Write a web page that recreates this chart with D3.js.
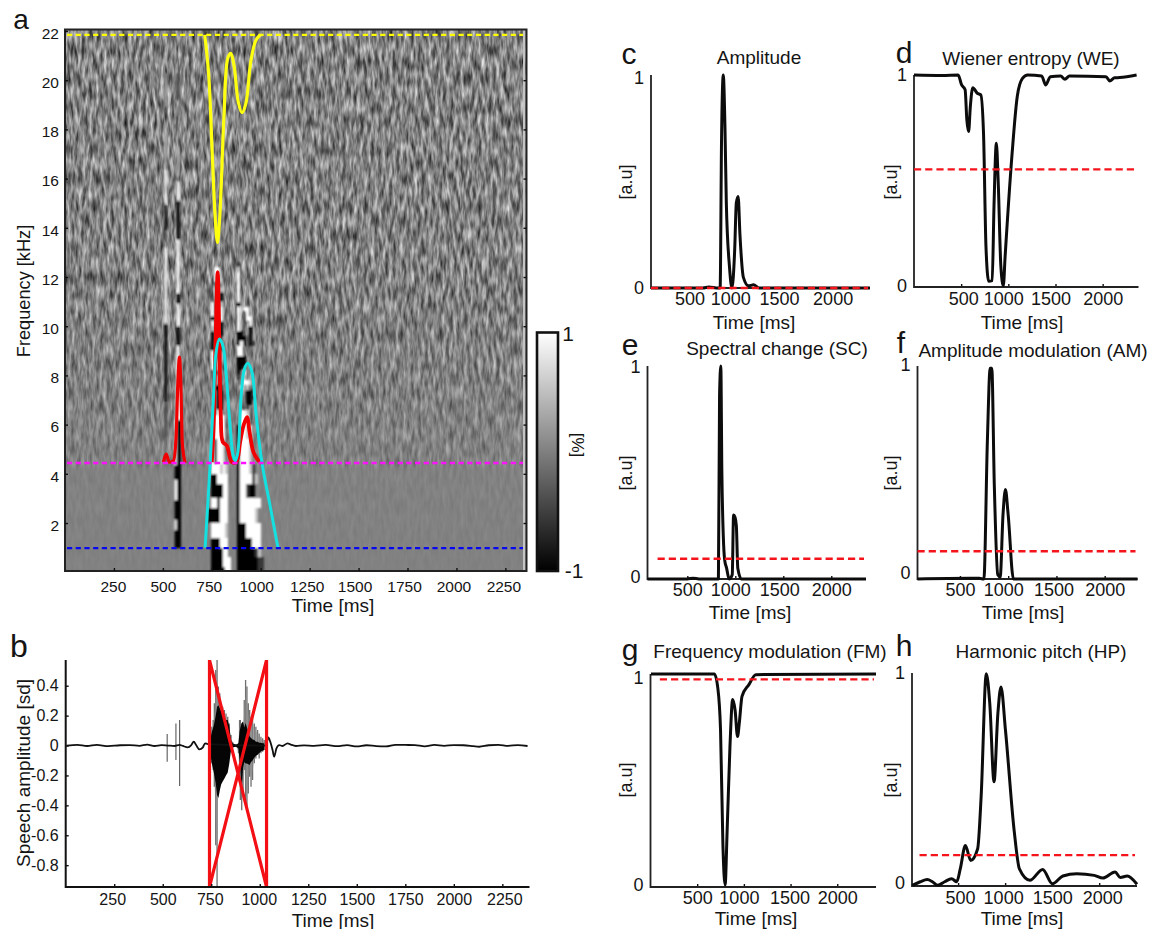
<!DOCTYPE html>
<html>
<head>
<meta charset="utf-8">
<script src="https://cdn.jsdelivr.net/npm/d3@7"></script>
<style>
html,body{margin:0;padding:0;background:#fff;overflow:hidden}
svg{display:block}
text{font-family:"Liberation Sans",Arial,sans-serif;fill:#141414}
</style>
</head>
<body>
<svg id="fig" width="1150" height="929"></svg>
<script>
// ---------- panel a: spectrogram ----------
const freqTicks = [2,4,6,8,10,12,14,16,18,20,22];
const timeTicksLong = [250,500,750,1000,1250,1500,1750,2000,2250];
const timeTicksShort = [500,1000,1500,2000];
const spectroStartMs = 715, spectroStepMs = 15, spectroTopKHz = 13, spectroStepKHz = 0.2;
const spectroLevels = {"#":-1, "-":-0.55, "+":0.55, ".":1};
const spectroRows = [
"                      ",
"                      ",
"           -          ",
"   ..      +          ",
"   ..      .          ",
"   ..      .          ",
"           .          ",
"     +     .          ",
"     #     .          ",
"     #     .          ",
"  .  +     #          ",
"  .  .     . ..       ",
"  .  .     .  .       ",
"  #  .     .  ..      ",
"  .  #     .   .      ",
"  +  #     .   #      ",
"  #  #     ##  #      ",
"  #        ### #      ",
"  #        #.# #-     ",
"  #  -     ..         ",
"  .        ..         ",
"  .        ###        ",
"  ..       ###        ",
"  ..       ##-        ",
"   -       # .        ",
"   .#      - +        ",
"   .#        ..+      ",
"   ##-      . +       ",
"    ##        ##      ",
"    ##        ##-     ",
"    ##        ##      ",
"    ##        -       ",
"    .       ..+       ",
"   ....     ...       ",
"   ....     ...       ",
"   ....    #..+.      ",
"   ....    #..+.      ",
"   ....    #..+.      ",
"  .#..+    #...+      ",
"  .#..+    #...+      ",
"  .#..+    #...+      ",
"  .#..+    #...+      ",
"  .#..+    #...+      ",
"  ...+.+   #...+-     ",
"  ...+.+   #...+-     ",
"  ##....   #....-+    ",
"  ##....   #....-+    ",
"  ####..   #..-##     ",
"  ####..   #..-##     ",
"  ####..   #..-##     ",
"  ..#...   #.......   ",
"  ..#...   #.......   ",
" ####...   #.....+    ",
" ####...   #.....+    ",
" ####...   #.....+    ",
"  .....+   ###.....   ",
"  .....+   ###.....   ",
"  .....+   ###.....   ",
"  ###...   #####...   ",
"  ###...   #####...   ",
"  ####..   ######-+   ",
"  ####..   ######-+   ",
"  ####...  #######--  ",
"  ####...  #######--  ",
"  #####..  #######--  "
];
// [start ms, end ms, high kHz, low kHz, value]
const clickStreaks = [
[511,519,20.3,18.9,0.25],[511,519,18,16.5,0.35],[511,519,16.35,15,0.9],[511,519,14.93,13.9,-0.9],
[511,519,13.2,10.1,1],[511,519,10.1,6.9,-1],[511,519,6.9,5.5,-0.4],
[573,583,20.3,19.2,-0.4],[573,583,17.3,16.1,0.3],[573,583,15.9,15.1,0.9],[573,583,15.1,13.5,-1],
[573,583,13.5,11.35,1],[573,583,11.35,10.9,-1],[573,583,10.9,10,1],[573,583,10,9.2,-1],[573,583,9.2,8.4,1],
[570,590,8.4,6.19,1],[563,573,6.19,4.36,1],[573,590,6.19,4.36,-1],[563,590,4.36,3.75,-1],
[563,575,3.75,2.93,1],[575,590,3.75,2.93,-1],[563,590,2.93,2.12,-1],[563,573,2.12,1.72,1],[573,590,2.12,1.72,-1],[563,590,1.72,0.98,-1]
];
const bandHighKHz = 21.84, bandMidKHz = 4.44, bandLowKHz = 0.98;
const yellowT = [714,734,753,767,779,791,812,832,847,864,885,904,924,949,974,997];
const yellowF = [21.84,20.25,16.88,14.48,13.4,14.48,18.48,20.9,21.09,20.58,19.13,18.68,19.05,20.74,21.6,21.84];
const redOneT = [503,517,533,554,568,576,585,592,599,614];
const redOneF = [4.47,4.8,4.47,4.53,5.55,7.58,8.74,7.58,5.29,4.44];
const redTwoT = [750,759,769,780,789,796,806,827,852,875,895,912,930,943,963,989,1006];
const redTwoF = [4.48,5.82,9.2,12.2,9.2,6.36,5.3,5.14,4.48,4.48,5.3,5.96,6.3,5.7,4.88,4.53,4.44];
const cyanT = [716,742,759,772,789,807,824,841,858,870,883,900,917,934,955,977,1006,1048,1088];
const cyanF = [1,4.47,7.17,8.95,9.48,9.2,8,6.2,4.8,4.53,4.87,7.17,8.26,8.49,8.14,6.36,4.47,2.7,1];

// ---------- panel b: waveform ----------
const ampTicks = [0.4,0.2,0,-0.2,-0.4,-0.6,-0.8];
const ampTickLabels = ["0.4","0.2","0","-0.2","-0.4","-0.6","-0.8"];
const baseT = [5,60,110,160,220,280,330,380,420,458,493,527,561,587,604,629,647,660,672,689,707,718,732,1032,1044,1054,1066,1074,1086,1100,1117,1143,1160,1186,1228,1280,1340,1400,1450,1500,1550,1600,1650,1700,1750,1800,1850,1900,1950,2000,2050,2100,2130,2180,2230,2280,2330,2380];
const baseV = [0,0.005,-0.003,0.004,-0.004,0.002,0.003,-0.002,0.006,-0.003,0.003,0,-0.003,0.004,-0.003,-0.012,0.003,0.026,0.003,-0.026,-0.012,0.015,0.01,0,0.055,0.026,-0.03,-0.075,-0.019,0.003,-0.003,0.015,0.006,-0.003,0.001,-0.002,0.004,-0.004,0.003,-0.006,0.002,-0.004,-0.006,0.005,0.004,0.003,-0.005,0.004,-0.002,0.003,0.002,-0.004,-0.008,0.002,0.005,-0.002,0.003,-0.003];
const burstT = [741,753,760,766,773,780,787,794,801,809,818,826,835,843,852,860,878,890,896,900,907,914,920,927,934,941,948,955,963,972,980,989,997,1006,1015,1023];
const burstPeakHi = [.015,.126,.171,.282,.505,.6,.394,.349,.282,.26,.237,.215,.193,.148,.07,.026,.003,.015,.171,.171,.148,.148,.304,.438,.394,.282,.237,.193,.215,.148,.126,.104,.081,.059,.048,.037];
const burstPeakLo = [-.019,-.119,-.164,-.275,-.666,-.96,-.32,-.231,-.209,-.197,-.186,-.142,-.097,-.075,-.041,-.019,-.008,-.052,-.253,-.365,-.432,-.32,-.164,-.365,-.409,-.32,-.209,-.275,-.231,-.119,-.086,-.064,-.086,-.052,-.041,-.03];
const burstCoreHi = [.015,.09,.12,.15,.2,.26,.27,.25,.23,.2,.18,.17,.17,.13,.037,.015,.003,.015,.093,.12,.15,.16,.12,.15,.12,.09,.06,.05,.04,.037,.026,.026,.019,.019,.015,.015];
const burstCoreLo = [-.019,-.12,-.16,-.2,-.25,-.33,-.35,-.3,-.26,-.24,-.22,-.2,-.18,-.12,-.03,-.012,-.008,-.019,-.097,-.15,-.3,-.15,-.11,-.12,-.12,-.125,-.13,-.11,-.1,-.08,-.07,-.06,-.05,-.04,-.035,-.03];
const clickT = [523,568,587];
const clickHi = [.077,.148,.171];
const clickLo = [-.108,-.097,-.271];
const crossStartMs = 741, crossEndMs = 1035;

// ---------- panels c-h: features ----------
const amplitudeT = [95,640,700,800,820,835,853,871,885,918,944,972,990,1009,1028,1064,1118,1170,1230,2392];
const amplitudeV = [0,0,.005,0,0,.7,1,.75,.4,.1,0,.17,.4,.43,.25,.05,.01,.015,0,0];
const wienerT = [0,300,468,505,542,560,579,597,623,671,708,737,763,792,829,848,873,892,921,947,966,1040,1095,1150,1205,1353,1397,1445,1555,1600,1648,2035,2075,2127,2180,2360];
const wienerV = [1,.998,1,.953,.93,.79,.733,.85,.94,.914,.906,.725,.19,.027,.03,.38,.678,.505,.097,.006,.144,.63,.9,.984,1,.995,.953,.992,.995,.98,.995,.992,.972,.987,.988,1];
const spectralT = [85,500,560,620,824,836,849,860,875,889,910,935,968,982,997,1011,1026,1063,2362];
const spectralV = [0,0,.004,0,0,.864,1,.5,.2,.09,.05,0,.02,.3,.29,.25,.05,0,0];
const amModT = [60,600,700,748,784,813,830,856,892,917,946,971,1000,1054,2340];
const amModV = [0,.003,.003,0,.645,.99,.99,.44,.02,.01,.3,.42,.3,0,0];
const freqModT = [5,684,721,750,776,799,821,851,880,906,932,951,980,1054,1128,2415];
const freqModV = [1,1,.934,.738,.19,.01,.267,.66,.88,.83,.706,.77,.895,.95,.997,1];
const pitchT = [13,98,172,227,283,357,431,486,523,578,634,708,745,800,837,882,923,956,1004,1096,1152,1263,1399,1503,1614,1762,1947,2039,2169,2224,2298,2402];
const pitchV = [.003,.02,.03,.02,.003,.02,.034,.02,.08,.19,.12,.175,.42,.997,.856,.49,.81,.934,.73,.26,.08,.027,.078,.01,.047,.058,.05,.037,.066,.04,.047,.008];
const thresholdAmp = 0, thresholdWE = 0.555, thresholdSC = 0.095, thresholdAM = 0.13, thresholdFM = 0.975, thresholdHP = 0.145;

// ---------- drawing ----------
const svg = d3.select("#fig");
const defs = svg.append("defs");
const grey = d3.scaleLinear().domain([-1,1]).range(["#000","#fff"]);
const plain = d3.format("d");

function styleAxis(g, size, dx){
  g.select(".domain").remove();
  g.selectAll("line").attr("stroke","#111").attr("stroke-width",1.4);
  g.selectAll("text").attr("font-size",size).attr("fill","#141414").style("font-family",'"Liberation Sans",Arial,sans-serif');
  if(dx) g.selectAll("text").attr("dx",(d,i)=>dx[i]);
}
function label(txt,x,y,size,rot){
  const t = svg.append("text").attr("text-anchor","middle").attr("dominant-baseline","central")
    .attr("font-size",size).text(txt);
  t.attr("transform",`translate(${x},${y})`+(rot?` rotate(${rot})`:""));
  return t;
}

// ----- panel a
const ax = d3.scaleLinear().domain([0,2358]).range([65,526.5]);
const ay = d3.scaleLinear().domain([0.05,22.06]).range([571,29.5]);

defs.append("clipPath").attr("id","clipA").append("rect")
  .attr("x",ax.range()[0]).attr("y",ay.range()[1])
  .attr("width",ax.range()[1]-ax.range()[0]).attr("height",ay.range()[0]-ay.range()[1]);

const noise = defs.append("filter").attr("id","speckle")
  .attr("filterUnits","userSpaceOnUse").attr("x",60).attr("y",25).attr("width",475).attr("height",555)
  .attr("color-interpolation-filters","sRGB");
noise.append("feTurbulence").attr("type","fractalNoise").attr("baseFrequency","0.28 0.07").attr("numOctaves",3).attr("seed",7);
noise.append("feColorMatrix").attr("type","matrix")
  .attr("values","1.05 0 0 0 -0.02  1.05 0 0 0 -0.02  1.05 0 0 0 -0.02  0 0 0 0 1");
noise.append("feGaussianBlur").attr("stdDeviation","0.45 0.8");

const fade = defs.append("linearGradient").attr("id","fade").attr("gradientUnits","userSpaceOnUse")
  .attr("x1",0).attr("x2",0).attr("y1",ay.range()[1]).attr("y2",ay.range()[0]);
[[22,1],[12,0.9],[7,0.6],[bandMidKHz,0.35],[4.2,0.12],[0.05,0.04]].forEach(([f,o])=>{
  fade.append("stop").attr("offset",(ay(f)-ay.range()[1])/(ay.range()[0]-ay.range()[1]))
    .attr("stop-color","#fff").attr("stop-opacity",o);
});
defs.append("mask").attr("id","fadeMask").attr("maskUnits","userSpaceOnUse")
  .attr("x",60).attr("y",25).attr("width",475).attr("height",555)
  .append("rect").attr("x",60).attr("y",25).attr("width",475).attr("height",555).attr("fill","url(#fade)");

defs.append("filter").attr("id","soft").attr("filterUnits","userSpaceOnUse")
  .attr("x",60).attr("y",25).attr("width",475).attr("height",555)
  .append("feGaussianBlur").attr("stdDeviation","0.9");

const gA = svg.append("g").attr("clip-path","url(#clipA)");
gA.append("rect").attr("x",ax.range()[0]).attr("y",ay.range()[1])
  .attr("width",ax.range()[1]-ax.range()[0]).attr("height",ay.range()[0]-ay.range()[1]).attr("fill","#828282");
gA.append("g").attr("mask","url(#fadeMask)").append("rect")
  .attr("x",ax.range()[0]).attr("y",ay.range()[1])
  .attr("width",ax.range()[1]-ax.range()[0]).attr("height",ay.range()[0]-ay.range()[1])
  .attr("filter","url(#speckle)");

const cells = [];
spectroRows.forEach((row,i)=>{
  row.split("").forEach((c,j)=>{
    if(spectroLevels[c]!==undefined) cells.push({
      t0:spectroStartMs+j*spectroStepMs, t1:spectroStartMs+(j+1)*spectroStepMs,
      f1:spectroTopKHz-i*spectroStepKHz, f0:spectroTopKHz-(i+1)*spectroStepKHz, v:spectroLevels[c]});
  });
});
const gMarks = gA.append("g").attr("filter","url(#soft)");
gMarks.selectAll("rect.c").data(cells).join("rect").attr("class","c").attr("shape-rendering","crispEdges")
  .attr("x",d=>ax(d.t0)).attr("width",d=>ax(d.t1)-ax(d.t0))
  .attr("y",d=>ay(d.f1)).attr("height",d=>ay(d.f0)-ay(d.f1)).attr("fill",d=>grey(d.v));
const gStreak = gA.append("g").attr("filter","url(#soft)");
gStreak.selectAll("rect.s").data(clickStreaks).join("rect").attr("class","s")
  .attr("x",d=>ax(d[0])-0.5).attr("width",d=>ax(d[1])-ax(d[0])+1)
  .attr("y",d=>ay(d[2])).attr("height",d=>ay(d[3])-ay(d[2])).attr("fill",d=>grey(d[4]));

const lineA = d3.line().x(d=>ax(d[0])).y(d=>ay(d[1])).curve(d3.curveMonotoneX);
const lineAsmooth = d3.line().x(d=>ax(d[0])).y(d=>ay(d[1])).curve(d3.curveCatmullRom);
function curveA(T,F,color,w,gen){
  gA.append("path").attr("d",(gen||lineA)(T.map((t,i)=>[t,F[i]]))).attr("fill","none")
    .attr("stroke",color).attr("stroke-width",w).attr("stroke-linejoin","round");
}
curveA(redOneT,redOneF,"#f00000",3.2);
curveA(redTwoT,redTwoF,"#f00000",3.8,lineAsmooth);
curveA(cyanT,cyanF,"#14e0e0",3,lineAsmooth);
curveA(yellowT,yellowF,"#ffff10",3.2,lineAsmooth);
[[bandHighKHz,"#ffff00"],[bandMidKHz,"#ff10ff"],[bandLowKHz,"#0808f0"]].forEach(([f,c])=>{
  gA.append("line").attr("x1",ax(0)+2).attr("x2",ax(2350)).attr("y1",ay(f)).attr("y2",ay(f))
    .attr("stroke",c).attr("stroke-width",2.4).attr("stroke-dasharray","5.2 3.5");
});
gA.append("rect").attr("x",ax.range()[1]-3.5).attr("y",ay.range()[1]).attr("width",2.5)
  .attr("height",ay.range()[0]-ay.range()[1]).attr("fill","#c4c4c4");

svg.append("rect").attr("x",ax.range()[0]).attr("y",ay.range()[1])
  .attr("width",ax.range()[1]-ax.range()[0]).attr("height",ay.range()[0]-ay.range()[1])
  .attr("fill","none").attr("stroke","#222").attr("stroke-width",2);

const aB = svg.append("g").attr("transform",`translate(0,${ay.range()[0]})`)
  .call(d3.axisBottom(ax).tickValues(timeTicksLong).tickFormat(plain).tickSizeInner(-3).tickSizeOuter(0).tickPadding(10));
styleAxis(aB,15.5,[-1,0,-3,-4.5,-3,-4,-3.5,-3,-2]);
const aL = svg.append("g").attr("transform",`translate(${ax.range()[0]},0)`)
  .call(d3.axisLeft(ay).tickValues(freqTicks).tickSizeInner(-3).tickSizeOuter(0).tickPadding(6));
styleAxis(aL,15.5);
aL.selectAll("text").attr("dy","0.47em");
const aR = svg.append("g").attr("transform",`translate(${ax.range()[1]},0)`)
  .call(d3.axisRight(ay).tickValues(freqTicks.slice(0,10)).tickSizeInner(-3).tickSizeOuter(0).tickFormat(""));
styleAxis(aR,1);
label("Time [ms]",333,605,19);
label("Frequency [kHz]",24,291,18.2,-90);
label("a",21,19,28);

// colorbar
const cbValues = [-1,1];
const cbY = d3.scaleLinear().domain(cbValues).range([571,332.5]);
const cbGrad = defs.append("linearGradient").attr("id","cbGrad").attr("x1",0).attr("x2",0).attr("y1",1).attr("y2",0);
cbValues.forEach((v,i)=>cbGrad.append("stop").attr("offset",i).attr("stop-color",grey(v)));
svg.append("rect").attr("x",537).attr("y",cbY(1)).attr("width",21).attr("height",cbY(-1)-cbY(1))
  .attr("fill","url(#cbGrad)").attr("stroke","#111").attr("stroke-width",2.6);
label("1",568,333,21);
label("-1",574,570,21);
label("[%]",577,445,17,90);

// ----- panel b
const bx = d3.scaleLinear().domain([0,2390]).range([65.7,529.5]);
const by = d3.scaleLinear().domain([-0.946,0.572]).range([887,660]);
defs.append("clipPath").attr("id","clipB").append("rect").attr("x",bx.range()[0]).attr("y",by.range()[1])
  .attr("width",bx.range()[1]-bx.range()[0]).attr("height",by.range()[0]-by.range()[1]);
const gB = svg.append("g").attr("clip-path","url(#clipB)");
const stick = (T,H,L,c,w)=>gB.append("g").selectAll("line").data(T).join("line")
  .attr("x1",d=>bx(d)).attr("x2",d=>bx(d)).attr("y1",(d,i)=>by(H[i])).attr("y2",(d,i)=>by(L[i]))
  .attr("stroke",c).attr("stroke-width",w);
stick(clickT,clickHi,clickLo,"#666",1.2);
stick(burstT,burstPeakHi,burstPeakLo,"#707070",1.3);
gB.append("path").attr("d",d3.area().x(d=>bx(d)).y0((d,i)=>by(burstPeakLo[i]*0.75)).y1((d,i)=>by(burstPeakHi[i]*0.75)).curve(d3.curveLinear)(burstT))
  .attr("fill","#8a8a8a").attr("fill-opacity",0.55);
gB.append("path").attr("d",d3.area().x(d=>bx(d)).y0((d,i)=>by(burstCoreLo[i])).y1((d,i)=>by(burstCoreHi[i])).curve(d3.curveLinear)(burstT))
  .attr("fill","#050505");
gB.append("path").attr("d",d3.line().x(d=>bx(d)).y((d,i)=>by(baseV[i])).curve(d3.curveMonotoneX)(baseT))
  .attr("fill","none").attr("stroke","#111").attr("stroke-width",1.8);
gB.append("path").attr("d",d3.line().x(d=>bx(d[0])).y(d=>by(d[1]))([
    [crossStartMs,by.domain()[1]],[crossEndMs,by.domain()[0]],[crossEndMs,by.domain()[1]],
    [crossStartMs,by.domain()[0]],[crossStartMs,by.domain()[1]]]))
  .attr("fill","none").attr("stroke","#f40f14").attr("stroke-width",3.2).attr("stroke-linejoin","miter");

const bB = svg.append("g").attr("transform",`translate(0,${by.range()[0]})`)
  .call(d3.axisBottom(bx).tickValues(timeTicksLong).tickFormat(plain).tickSizeInner(-3).tickSizeOuter(0).tickPadding(7));
styleAxis(bB,16,[-2,0,-1.5,-1,0,0,0,0,2]);
const bL = svg.append("g").attr("transform",`translate(${bx.range()[0]},0)`)
  .call(d3.axisLeft(by).tickValues(ampTicks).tickFormat((d,i)=>ampTickLabels[i]).tickSizeInner(-3).tickSizeOuter(0).tickPadding(7));
styleAxis(bL,16);
svg.append("path").attr("d",`M${bx.range()[0]},${by.range()[1]}V${by.range()[0]}H${bx.range()[1]}`)
  .attr("fill","none").attr("stroke","#111").attr("stroke-width",2);
label("Time [ms]",333,920,19);
label("Speech amplitude [sd]",23,773,19,-90);
label("b",19,646,32);

// ----- panels c-h
const panels = [
 {T:amplitudeT,V:amplitudeV,thr:thresholdAmp,thrFrom:95,dom:[95,2392],x:[651,870],y:[288,75],tick:0,dx:[0,-7,-6,0],title:"Amplitude",tx:759,ty:57,letter:"c",lx:629,ly:53,yl:[625.5,182],xl:[754,322],lab:299,zeroDy:0,oneDy:3},
 {T:wienerT,V:wienerV,thr:thresholdWE,thrFrom:0,dom:[0,2380],x:[914,1138.5],y:[287,75],tick:3,dx:[2,-5,-5,0],title:"Wiener entropy (WE)",tx:1031,ty:58,letter:"d",lx:904,ly:52,yl:[890.5,182],xl:[1022,322],lab:299,zeroDy:-1,oneDy:0},
 {T:spectralT,V:spectralV,thr:thresholdSC,thrFrom:190,dom:[85,2362],x:[647.5,866],y:[579,366],tick:3,dx:[0,-5,-4,0],title:"Spectral change (SC)",tx:777,ty:348,letter:"e",lx:630,ly:344,yl:[625.5,473],xl:[750,612],lab:590,zeroDy:-2,oneDy:1},
 {T:amModT,V:amModV,thr:thresholdAM,thrFrom:60,dom:[60,2340],x:[917.5,1137.5],y:[579,366],tick:3,dx:[0,-5,-3,0],title:"Amplitude modulation (AM)",tx:1033,ty:350,letter:"f",lx:901,ly:342,yl:[891,473],xl:[1023,612],lab:590,zeroDy:-6,oneDy:-1},
 {T:freqModT,V:freqModV,thr:thresholdFM,thrFrom:100,dom:[0,2415],x:[650.5,876],y:[887,674],tick:3,dx:[0,-5,-1,0],title:"Frequency modulation (FM)",tx:770,ty:651,letter:"g",lx:630,ly:649,yl:[625.5,780],xl:[756,918],lab:898,zeroDy:-2,oneDy:4},
 {T:pitchT,V:pitchV,thr:thresholdHP,thrFrom:90,dom:[10,2402],x:[912,1137],y:[886,673],tick:3,dx:[2,-2,0,3],title:"Harmonic pitch (HP)",tx:1041,ty:651,letter:"h",lx:904,ly:645,yl:[891,780],xl:[1022,918],lab:898,zeroDy:-3,oneDy:0}
];
const unit = [0,1];
panels.forEach(p=>{
  const x = d3.scaleLinear().domain(p.dom).range(p.x);
  const y = d3.scaleLinear().domain(unit).range(p.y);
  const g = svg.append("g");
  const xa = g.append("g").attr("transform",`translate(0,${p.y[0]})`)
    .call(d3.axisBottom(x).tickValues(timeTicksShort).tickFormat(plain).tickSizeInner(-p.tick).tickSizeOuter(0).tickPadding(p.lab-p.y[0]-7));
  styleAxis(xa,18,p.dx);
  const ya = g.append("g").attr("transform",`translate(${p.x[0]},0)`)
    .call(d3.axisLeft(y).tickValues(unit).tickFormat(plain).tickSizeInner(0).tickSizeOuter(0).tickPadding(7));
  styleAxis(ya,18);
  ya.selectAll("text").attr("transform",d=>`translate(0,${d===0?p.zeroDy:p.oneDy})`);
  g.append("path").attr("d",`M${p.x[0]},${p.y[1]}V${p.y[0]}H${p.x[1]}`).attr("fill","none").attr("stroke","#222").attr("stroke-width",1.8);
  g.append("path").attr("d",d3.line().x(d=>x(d)).y((d,i)=>y(p.V[i])).curve(d3.curveMonotoneX)(p.T))
    .attr("fill","none").attr("stroke","#0c0c0c").attr("stroke-width",3).attr("stroke-linejoin","round");
  g.append("line").attr("x1",x(p.thrFrom)).attr("x2",p.x[1]-2).attr("y1",y(p.thr)).attr("y2",y(p.thr))
    .attr("stroke","#f5141c").attr("stroke-width",2.4).attr("stroke-dasharray","7.2 4");
  label(p.title,p.tx,p.ty,19);
  label(p.letter,p.lx,p.ly,30);
  label("[a.u]",p.yl[0],p.yl[1],18,-90);
  label("Time [ms]",p.xl[0],p.xl[1],19);
});
</script>
</body>
</html>
